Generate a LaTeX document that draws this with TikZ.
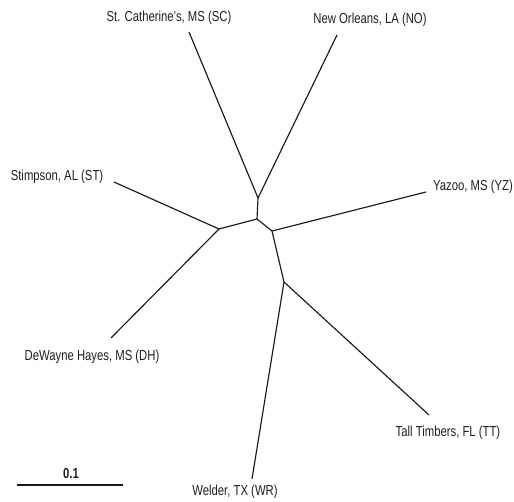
\documentclass[tikz,border=0pt]{standalone}
\usepackage{graphicx}
\usepackage{fontspec}
\setmainfont{Liberation Sans}
\newcommand{\narrowtxt}[1]{\scalebox{0.78}[1]{#1}}
\begin{document}
\begin{tikzpicture}[x=1pt,y=-1pt,
  branch/.style={line width=1.15pt, black!90},
  lab/.style={font=\fontsize{14.5}{16}\selectfont, text=black!88, inner sep=0pt},
  scalebar/.style={line width=1.3pt, black!90}]
\useasboundingbox (0,0) rectangle (514,502);
% internal vertices
\coordinate (c) at (257,219);
\coordinate (scno) at (258,198);
\coordinate (stdh) at (219,229);
\coordinate (yzn) at (272,231);
\coordinate (ttwr) at (284,282);
% leaf tips
\coordinate (sc) at (189,32);
\coordinate (no) at (337,35);
\coordinate (st) at (114,182);
\coordinate (dh) at (111,338);
\coordinate (yz) at (426,192);
\coordinate (tt) at (429,415);
\coordinate (wr) at (252,479);
% labels
\node[lab] (lsc) at (169,18) {\narrowtxt{St. Catherine's, MS (SC)}};
\node[lab] (lno) at (370,20) {\narrowtxt{New Orleans, LA (NO)}};
\node[lab] (lst) at (57,177) {\narrowtxt{Stimpson, AL (ST)}};
\node[lab] (ldh) at (92,357) {\narrowtxt{DeWayne Hayes, MS (DH)}};
\node[lab,anchor=west] (lyz) at (433,187) {\narrowtxt{Yazoo, MS (YZ)}};
\node[lab] (ltt) at (448,433) {\narrowtxt{Tall Timbers, FL (TT)}};
\node[lab] (lwr) at (235,492) {\narrowtxt{Welder, TX (WR)}};
% branches
\draw[branch] (c) -- (scno);
\draw[branch] (scno) -- (sc);
\draw[branch] (scno) -- (no);
\draw[branch] (c) -- (stdh);
\draw[branch] (stdh) -- (st);
\draw[branch] (stdh) -- (dh);
\draw[branch] (c) -- (yzn);
\draw[branch] (yzn) -- (yz);
\draw[branch] (yzn) -- (ttwr);
\draw[branch] (ttwr) -- (tt);
\draw[branch] (ttwr) -- (wr);
% scale bar
\coordinate (sba) at (17,485);
\coordinate (sbb) at (123,485);
\draw[scalebar] (sba) -- (sbb);
\node[lab,font=\fontsize{14.5}{16}\selectfont\bfseries] (sbl) at (71,474) {\narrowtxt{0.1}};
\end{tikzpicture}
\end{document}
